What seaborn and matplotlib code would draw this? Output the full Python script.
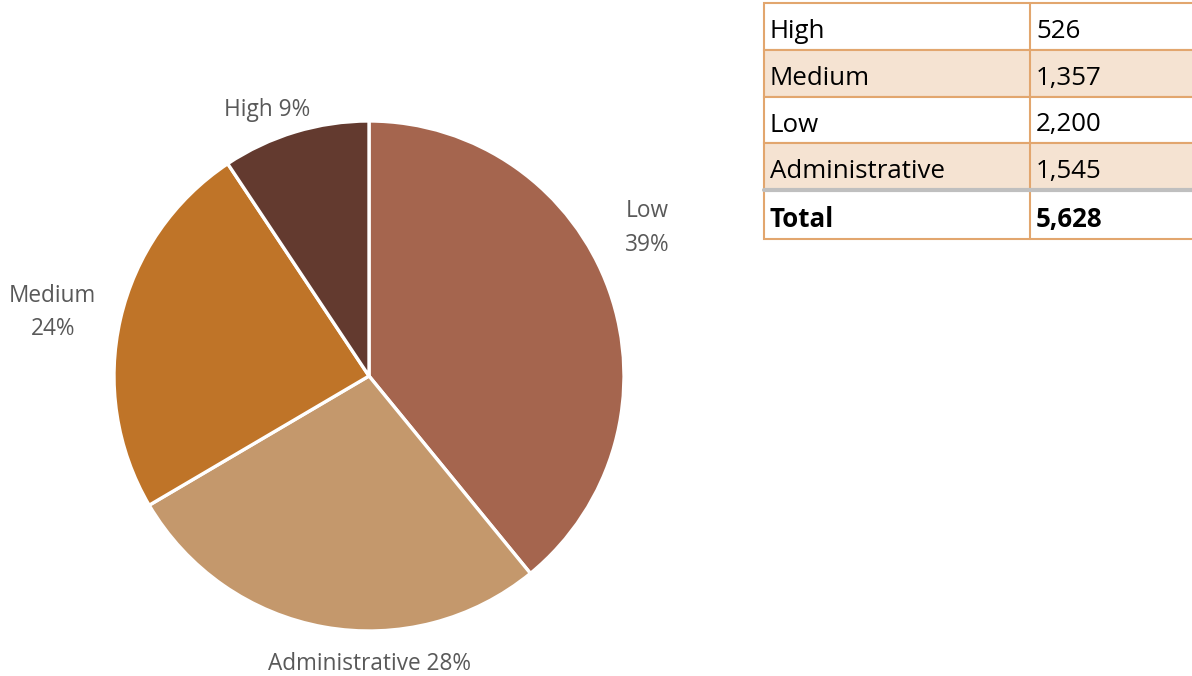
import matplotlib
matplotlib.use("Agg")
import matplotlib.pyplot as plt
from matplotlib.patches import Rectangle
import seaborn as sns

# ---- data ----
categories = ["Low", "Administrative", "Medium", "High"]
values = [2200, 1545, 1357, 526]
pct_labels = [39, 28, 24, 9]
pie_colors = ["#A5654E", "#C4986C", "#BF7428", "#633A2F"]

table_labels = ["High", "Medium", "Low", "Administrative"]
table_values = [526, 1357, 2200, 1545]
total_label = "Total"

sns.set_theme(style="white")
plt.rcParams["font.family"] = ["Open Sans", "DejaVu Sans"]

W, H = 1192, 676
fig = plt.figure(figsize=(W / 100, H / 100), dpi=100)
fig.patch.set_facecolor("white")

# ---- pie ----
cx, cy, r = 369, 376, 255
ax = fig.add_axes([(cx - r) / W, (H - cy - r) / H, 2 * r / W, 2 * r / H])
wedges, _ = ax.pie(values, colors=pie_colors, startangle=90, counterclock=False,
                   radius=1.0, wedgeprops=dict(edgecolor="white", linewidth=2.4))
ax.set_xlim(-1, 1)
ax.set_ylim(-1, 1)
ax.set_aspect("equal")
ax.axis("off")

label_pos = {
    "Low": (1.09, 0.58, "Low\n{}%"),
    "Administrative": (0.0, -1.128, "Administrative {}%"),
    "Medium": (-1.24, 0.248, "Medium\n{}%"),
    "High": (-0.40, 1.042, "High {}%"),
}
for cat, p in zip(categories, pct_labels):
    x, y, fmt = label_pos[cat]
    ax.text(x, y, fmt.format(p), ha="center", va="center", fontsize=16.3,
            color="#595959", linespacing=1.52, clip_on=False)

# ---- table ----
tax = fig.add_axes([0, 0, 1, 1])
tax.set_xlim(0, W)
tax.set_ylim(H, 0)
tax.axis("off")
tax.patch.set_alpha(0)

border = "#E2A66E"
shade = "#F5E3D2"
x0, x1, x2 = 764, 1030, 1200
rows_y = [3, 50, 97, 143, 190, 239]
all_labels = table_labels + [total_label]
all_vals = [f"{v:,}" for v in table_values] + [f"{sum(table_values):,}"]
for i, (lab, val) in enumerate(zip(all_labels, all_vals)):
    ytop, ybot = rows_y[i], rows_y[i + 1]
    fc = shade if i in (1, 3) else "white"
    tax.add_patch(Rectangle((x0, ytop), x2 - x0, ybot - ytop, facecolor=fc,
                            edgecolor=border, linewidth=1.5))
    bold = lab == total_label
    ym = (ytop + ybot) / 2 + 5
    tax.text(x0 + 6, ym, lab, ha="left", va="center", fontsize=18.6, color="black",
             fontweight="bold" if bold else "normal")
    tax.text(x1 + 6, ym, val, ha="left", va="center", fontsize=18.6, color="black",
             fontweight="bold" if bold else "normal")
tax.plot([x1, x1], [rows_y[0], rows_y[-1]], color=border, lw=1.5)
tax.plot([x0, x2], [rows_y[4], rows_y[4]], color="#BFBFBF", lw=3)

fig.savefig("out.png", dpi=100, facecolor="white")
